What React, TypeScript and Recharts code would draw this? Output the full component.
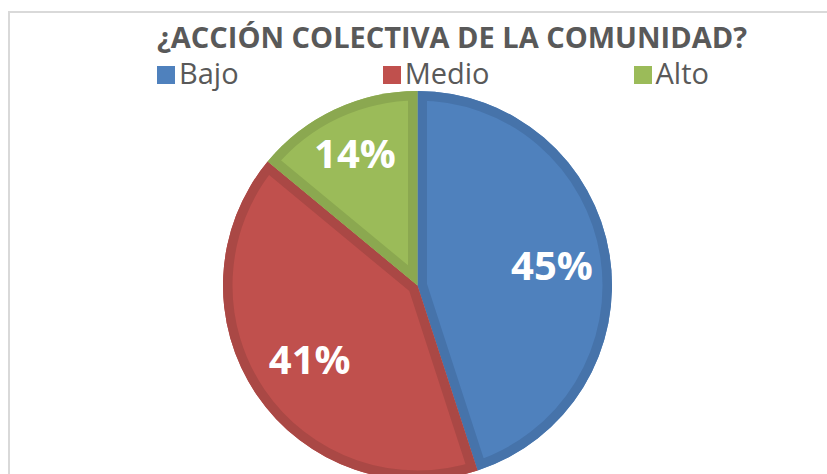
import React from 'react';
import { PieChart, Pie, Cell, Sector } from 'recharts';

const title = '¿ACCIÓN COLECTIVA DE LA COMUNIDAD?';
const categories = ['Bajo', 'Medio', 'Alto'];
const values = [45, 41, 14];
const valueLabels = ['45%', '41%', '14%'];
const fills = ['#4F81BD', '#C0504D', '#9BBB59'];
const borders = ['#4673AA', '#AA4845', '#8BA850'];

const data = categories.map((name, i) => ({ name, value: values[i], label: valueLabels[i] }));

const FONT = '"Open Sans", "Liberation Sans", sans-serif';
const RADIAN = Math.PI / 180;
// best-fit label distance from the centre, as a fraction of the radius
const LABEL_RADIUS = [0.7, 0.67, 0.755];

function renderSliceOverlay(props: any) {
  const { cx, cy, startAngle, endAngle, outerRadius, index, midAngle } = props;
  const id = `slice-clip-${index}`;
  const r = outerRadius * LABEL_RADIUS[index];
  const x = cx + r * Math.cos(-midAngle * RADIAN);
  const y = cy + r * Math.sin(-midAngle * RADIAN);
  return (
    <g key={id}>
      <defs>
        <clipPath id={id}>
          <Sector cx={cx} cy={cy} innerRadius={0} outerRadius={outerRadius} startAngle={startAngle} endAngle={endAngle} />
        </clipPath>
      </defs>
      <g clipPath={`url(#${id})`}>
        <Sector
          cx={cx}
          cy={cy}
          innerRadius={0}
          outerRadius={outerRadius}
          startAngle={startAngle}
          endAngle={endAngle}
          fill="none"
          stroke={borders[index]}
          strokeWidth={19}
        />
      </g>
      <text
        x={x}
        y={y}
        fill="#FFFFFF"
        textAnchor="middle"
        dominantBaseline="central"
        fontFamily={FONT}
        fontWeight={700}
        fontSize={40}
      >
        {data[index].label}
      </text>
    </g>
  );
}

export default function App() {
  return (
    <div
      style={{
        position: 'absolute',
        left: 0,
        top: 0,
        width: 827,
        height: 474,
        overflow: 'hidden',
        background: '#FFFFFF',
        fontFamily: FONT,
      }}
    >
      <div
        style={{
          position: 'absolute',
          left: 8,
          top: 11,
          width: 1000,
          height: 1000,
          border: '2px solid #D9D9D9',
          boxSizing: 'border-box',
        }}
      />
      <div
        style={{
          position: 'absolute',
          left: 157,
          top: 17,
          whiteSpace: 'nowrap',
          fontSize: 29,
          fontWeight: 700,
          color: '#595959',
          lineHeight: 'normal',
        }}
      >
        {title}
      </div>
      <div
        style={{
          position: 'absolute',
          left: 157,
          top: 53,
          display: 'flex',
          alignItems: 'center',
          gap: 144,
          whiteSpace: 'nowrap',
        }}
      >
        {categories.map((c, i) => (
          <div key={c} style={{ display: 'flex', alignItems: 'center' }}>
            <span
              style={{
                display: 'inline-block',
                width: 18,
                height: 18,
                background: fills[i],
                marginRight: 4,
                marginTop: 4.5,
              }}
            />
            <span style={{ fontSize: 29, color: '#595959', lineHeight: 'normal' }}>{c}</span>
          </div>
        ))}
      </div>
      <div style={{ position: 'absolute', left: 0, top: 0 }}>
        <PieChart width={827} height={474} margin={{ top: 0, right: 0, bottom: 0, left: 0 }}>
          <Pie
            data={data}
            dataKey="value"
            nameKey="name"
            cx={417.5}
            cy={285.5}
            outerRadius={194.5}
            startAngle={90}
            endAngle={-270}
            stroke="none"
            labelLine={false}
            label={renderSliceOverlay}
            isAnimationActive={false}
          >
            {data.map((d, i) => (
              <Cell key={d.name} fill={fills[i]} stroke="none" />
            ))}
          </Pie>
        </PieChart>
      </div>
    </div>
  );
}
